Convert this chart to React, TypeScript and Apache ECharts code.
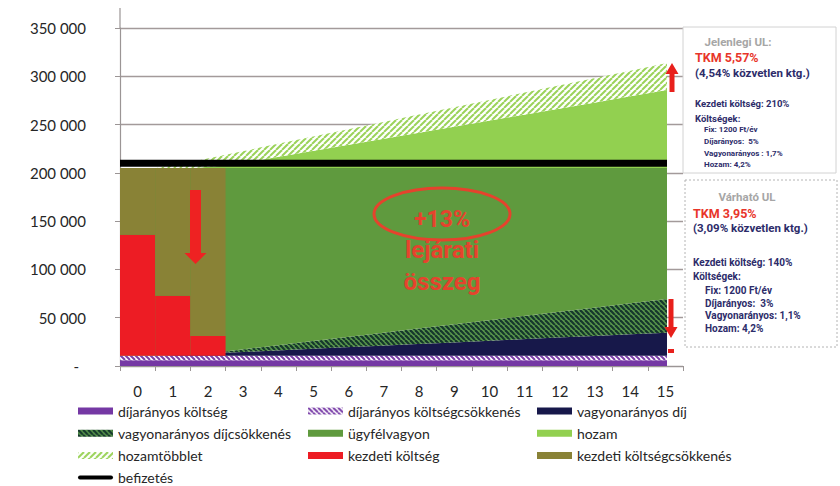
import React, { useEffect, useRef } from 'react';
import * as echarts from 'echarts';

// Policy years on the horizontal axis
const years = ['0', '1', '2', '3', '4', '5', '6', '7', '8', '9', '10', '11', '12', '13', '14', '15'];

// Stacked layers (Ft), one value per year, bottom to top
const feeRatioCost = [6000, 6000, 6000, 6000, 6000, 6000, 6000, 6000, 6000, 6000, 6000, 6000, 6000, 6000, 6000, 6000];
const feeRatioCut = [4500, 4500, 4500, 4500, 4500, 4500, 4500, 4500, 4500, 4500, 4500, 4500, 4500, 4500, 4500, 4500];
const assetFee = [0, 0, 1700, 3400, 5100, 6900, 8600, 10300, 12000, 13700, 15400, 17100, 18900, 20600, 22300, 24000];
const assetFeeCut = [0, 0, 0, 1700, 4400, 7200, 10000, 12700, 15500, 18300, 21000, 23800, 26500, 29300, 32100, 34900];
const clientAssets = [194500, 194500, 192800, 189400, 185000, 180400, 175900, 171500, 167000, 162500, 158100, 153600, 149100, 144600, 140100, 135600];
const yieldGain = [0, 0, 0, 2800, 9300, 15800, 22300, 28700, 35200, 41700, 48200, 54700, 61200, 67700, 74200, 80700];
const yieldExtra = [0, 0, 6760, 11800, 13140, 14480, 15820, 17260, 18600, 19950, 21290, 22630, 23970, 25310, 26650, 28000];
const payments = [210000, 210000, 210000, 210000, 210000, 210000, 210000, 210000, 210000, 210000, 210000, 210000, 210000, 210000, 210000, 210000];

// Initial cost columns for the first three years
const initialCost = [125500, 62300, 20500];
const initialCostCut = [69000, 132200, 174000];

// Y-axis scale
const yMin = 0;
const yMax = 350000;
const yStep = 50000;

const FONT = 'Lato';
const BOLD_FONT = 'Roboto';
const NAVY_TEXT = '#2d2c6a';
const RED_TEXT = '#e8352a';
const GRAY_TEXT = '#a6a6a6';

function hatch(fg: string, bg: string, dir: 'back' | 'fwd', size: number, lw: number) {
  const c = document.createElement('canvas');
  c.width = size;
  c.height = size;
  const ctx = c.getContext('2d') as CanvasRenderingContext2D;
  ctx.fillStyle = bg;
  ctx.fillRect(0, 0, size, size);
  ctx.strokeStyle = fg;
  ctx.lineWidth = lw;
  for (const o of [-size, 0, size]) {
    ctx.beginPath();
    if (dir === 'back') {
      ctx.moveTo(o, 0);
      ctx.lineTo(o + size, size);
    } else {
      ctx.moveTo(o, size);
      ctx.lineTo(o + size, 0);
    }
    ctx.stroke();
  }
  return { image: c, repeat: 'repeat', imageWidth: size, imageHeight: size } as any;
}

function fmtThousands(v: number) {
  if (v === 0) return '{z|-}';
  return String(v).replace(/\B(?=(\d{3})+(?!\d))/g, ' ');
}

export default function App() {
  const ref = useRef<HTMLDivElement>(null);

  useEffect(() => {
    document.body.style.margin = '0';
    if (!ref.current) return;
    const chart = echarts.init(ref.current, undefined, { renderer: 'svg' });

    const purple = '#7538a4';
    const purpleHatch = hatch('#7a3fa8', '#ffffff', 'back', 5, 2);
    const navy = '#17184a';
    const navyHatch = hatch('#15372c', '#5a964c', 'back', 5, 2.2);
    const green = '#5f9a3e';
    const lightGreen = '#92d050';
    const lightHatch = hatch('#9bd35a', '#ffffff', 'fwd', 6, 2);
    const red = '#ed1c24';
    const olive = '#898236';

    const base = initialCost.map((_, i) => feeRatioCost[i] + feeRatioCut[i]);

    const area = (name: string, data: number[], color: any) => ({
      name,
      type: 'line',
      xAxisIndex: 1,
      yAxisIndex: 1,
      stack: 'total',
      data,
      symbol: 'none',
      silent: true,
      lineStyle: { width: 0, opacity: 0 },
      itemStyle: { color },
      areaStyle: { color, opacity: 1 },
      z: 2,
    });

    const bar = (name: string, data: number[], color: string) => ({
      name,
      type: 'bar',
      xAxisIndex: 0,
      yAxisIndex: 0,
      stack: 'initial',
      data,
      barWidth: '100%',
      silent: true,
      itemStyle: { color },
      z: 3,
    });

    const legendCommon = {
      orient: 'vertical',
      top: 404,
      height: 82,
      padding: 0,
      itemWidth: 35,
      itemHeight: 7,
      itemGap: 8.2,
      icon: 'rect',
      selectedMode: false,
      textStyle: { fontFamily: FONT, fontSize: 14, color: '#262626', lineHeight: 14 },
    };
    const li = (name: string, color: any, extra: any = {}) => ({
      name,
      itemStyle: { color, borderWidth: 0 },
      ...extra,
    });

    const txt = (text: string, x: number, y: number, size: number, fill: string, align = 'left') => ({
      type: 'text',
      x,
      y,
      silent: true,
      style: {
        text,
        fill,
        fontFamily: BOLD_FONT,
        fontWeight: 'bold',
        fontSize: size,
        textAlign: align,
        textVerticalAlign: 'middle',
      },
      z: 20,
    });

    const option: any = {
      animation: false,
      grid: [
        { left: 120, right: 157, top: 28, bottom: 120 },
        { left: 120, right: 173, top: 28, bottom: 120 },
      ],
      xAxis: [
        {
          type: 'category',
          gridIndex: 0,
          data: years,
          boundaryGap: true,
          axisLine: { show: true, lineStyle: { color: '#9b9595', width: 1 } },
          axisTick: { show: true, length: 5, lineStyle: { color: '#9b9595' } },
          axisLabel: { fontFamily: FONT, fontSize: 15, color: '#262626', margin: 17 },
          splitLine: { show: false },
          z: 10,
        },
        {
          type: 'category',
          gridIndex: 1,
          data: years,
          boundaryGap: false,
          show: false,
        },
      ],
      yAxis: [
        {
          type: 'value',
          gridIndex: 0,
          min: yMin,
          max: yMax,
          interval: yStep,
          axisLine: { show: true, lineStyle: { color: '#9b9595', width: 1.2 } },
          axisTick: { show: true, length: 5, lineStyle: { color: '#9b9595' } },
          axisLabel: {
            fontFamily: FONT,
            fontSize: 15,
            color: '#262626',
            margin: 34,
            formatter: fmtThousands,
            rich: { z: { fontFamily: FONT, fontSize: 15, color: '#262626', padding: [0, 7, 0, 0] } },
          },
          splitLine: { show: true, lineStyle: { color: '#a39a9a', width: 1.3 } },
        },
        {
          type: 'value',
          gridIndex: 1,
          min: yMin,
          max: yMax,
          interval: yStep,
          show: false,
          splitLine: { show: false },
        },
      ],
      legend: [
        {
          ...legendCommon,
          left: 78,
          data: [
            li('díjarányos költség', purple),
            li('vagyonarányos díjcsökkenés', navyHatch),
            li('hozamtöbblet', lightHatch),
            li('befizetés', '#000', {
              icon: 'path://M2,0 L33,0 A2,2 0 0 1 33,4 L2,4 A2,2 0 0 1 2,0 Z',
            }),
          ],
        },
        {
          ...legendCommon,
          left: 308,
          data: [
            li('díjarányos költségcsökkenés', purpleHatch),
            li('ügyfélvagyon', green),
            li('kezdeti költség', red),
          ],
        },
        {
          ...legendCommon,
          left: 537,
          data: [
            li('vagyonarányos díj', navy),
            li('hozam', lightGreen),
            li('kezdeti költségcsökkenés', olive),
          ],
        },
      ],
      series: [
        area('díjarányos költség', feeRatioCost, purple),
        area('díjarányos költségcsökkenés', feeRatioCut, purpleHatch),
        area('vagyonarányos díj', assetFee, navy),
        area('vagyonarányos díjcsökkenés', assetFeeCut, navyHatch),
        area('ügyfélvagyon', clientAssets, green),
        area('hozam', yieldGain, lightGreen),
        area('hozamtöbblet', yieldExtra, lightHatch),
        { ...bar('alap', base, 'transparent') },
        bar('kezdeti költség', initialCost, red),
        bar('kezdeti költségcsökkenés', initialCostCut, olive),
        {
          name: 'befizetés',
          type: 'line',
          xAxisIndex: 1,
          yAxisIndex: 1,
          data: payments,
          symbol: 'none',
          silent: true,
          lineStyle: { color: '#000', width: 7 },
          itemStyle: { color: '#000' },
          z: 6,
        },
      ],
      graphic: [
        // vertical axis continues above the top gridline
        {
          type: 'line',
          silent: true,
          shape: { x1: 120, y1: 8, x2: 120, y2: 28 },
          style: { stroke: '#9b9595', lineWidth: 1.2 },
          z: 10,
        },
        // down arrow over the initial-cost columns
        {
          type: 'polygon',
          silent: true,
          shape: {
            points: [[190, 190], [201, 190], [201, 253], [206.5, 253], [195.5, 264], [184.5, 253], [190, 253]],
          },
          style: { fill: '#ee2222' },
          z: 15,
        },
        // maturity amount callout
        {
          type: 'ellipse',
          silent: true,
          shape: { cx: 442, cy: 214, rx: 68, ry: 26 },
          style: { fill: 'none', stroke: '#e5432d', lineWidth: 3 },
          z: 15,
        },
        txt('+13%', 442, 219, 23, '#e5432d', 'center'),
        txt('lejárati', 442, 250, 24, '#e5432d', 'center'),
        txt('összeg', 442, 282, 24, '#e5432d', 'center'),
        // right-edge arrows
        {
          type: 'polygon',
          silent: true,
          shape: { points: [[672, 63], [678.5, 74], [674.5, 74], [674.5, 92], [669.5, 92], [669.5, 74], [665.5, 74]] },
          style: { fill: '#e8201c' },
          z: 15,
        },
        {
          type: 'polygon',
          silent: true,
          shape: { points: [[668.5, 299], [673.5, 299], [673.5, 327], [677.5, 327], [671, 338], [664.5, 327], [668.5, 327]] },
          style: { fill: '#e8201c' },
          z: 15,
        },
        {
          type: 'rect',
          silent: true,
          shape: { x: 668, y: 349, width: 6, height: 4 },
          style: { fill: '#e8201c' },
          z: 15,
        },
        // current product box
        {
          type: 'rect',
          silent: true,
          shape: { x: 683, y: 27, width: 153, height: 146 },
          style: { fill: '#ffffff', stroke: '#d2d2d2', lineWidth: 1 },
          z: 18,
        },
        txt('Jelenlegi UL:', 738, 42, 11.5, GRAY_TEXT, 'center'),
        txt('TKM 5,57%', 695, 57, 12.5, RED_TEXT),
        txt('(4,54% közvetlen ktg.)', 695, 73, 11.5, NAVY_TEXT),
        txt('Kezdeti költség: 210%', 695, 103, 9.5, NAVY_TEXT),
        txt('Költségek:', 695, 118, 9.5, NAVY_TEXT),
        txt('Fix: 1200 Ft/év', 704, 129.5, 8, NAVY_TEXT),
        txt('Díjarányos:  5%', 704, 141.5, 8, NAVY_TEXT),
        txt('Vagyonarányos : 1,7%', 704, 153, 8, NAVY_TEXT),
        txt('Hozam: 4,2%', 704, 164, 8, NAVY_TEXT),
        // expected product box
        {
          type: 'rect',
          silent: true,
          shape: { x: 685, y: 180, width: 152, height: 167 },
          style: { fill: '#ffffff', stroke: '#b4b4b4', lineWidth: 1, lineDash: [2, 2] },
          z: 18,
        },
        txt('Várható UL', 747, 197, 11.5, GRAY_TEXT, 'center'),
        txt('TKM 3,95%', 693, 213, 12.5, RED_TEXT),
        txt('(3,09% közvetlen ktg.)', 693, 228, 11.5, NAVY_TEXT),
        txt('Kezdeti költség: 140%', 693, 262, 10, NAVY_TEXT),
        txt('Költségek:', 693, 276, 10, NAVY_TEXT),
        txt('Fix: 1200 Ft/év', 705, 290, 10, NAVY_TEXT),
        txt('Díjarányos:  3%', 705, 303, 10, NAVY_TEXT),
        txt('Vagyonarányos: 1,1%', 705, 315, 10, NAVY_TEXT),
        txt('Hozam: 4,2%', 705, 328, 10, NAVY_TEXT),
      ],
    };

    chart.setOption(option);
    return () => chart.dispose();
  }, []);

  return <div ref={ref} style={{ width: 840, height: 486 }} />;
}
